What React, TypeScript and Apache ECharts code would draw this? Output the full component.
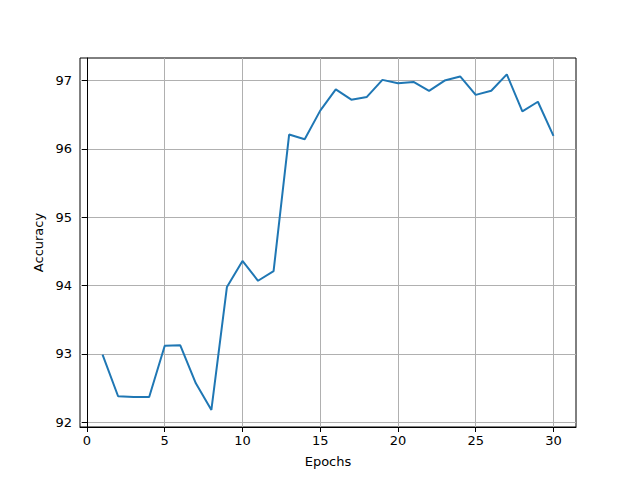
import React, { useEffect, useRef } from "react";
import * as echarts from "echarts";

const epochs = Array.from({ length: 30 }, (_, i) => i + 1);
const accuracy = [
  92.99, 92.38, 92.37, 92.37, 93.12, 93.125, 92.57, 92.18, 93.98, 94.36,
  94.07, 94.21, 96.21, 96.14, 96.56, 96.87, 96.72, 96.76, 97.01, 96.96,
  96.98, 96.85, 97.0, 97.06, 96.79, 96.85, 97.09, 96.55, 96.69, 96.19,
];
const xTicks = [0, 5, 10, 15, 20, 25, 30];
const yTicks = [92, 93, 94, 95, 96, 97];

const FONT = "DejaVu Sans";

export default function App() {
  const ref = useRef<HTMLDivElement>(null);
  useEffect(() => {
    if (!ref.current) return;
    const chart = echarts.init(ref.current, undefined, { renderer: "svg" });
    chart.setOption({
      animation: false,
      backgroundColor: "#ffffff",
      textStyle: { fontFamily: FONT },
      grid: {
        left: 80,
        right: 64,
        top: 58,
        bottom: 53,
        show: true,
        borderColor: "#000000",
        borderWidth: 1,
        backgroundColor: "transparent",
      },
      xAxis: {
        type: "value",
        min: -0.45,
        max: 31.45,
        name: "Epochs",
        nameLocation: "middle",
        nameGap: 28,
        nameTextStyle: { fontFamily: FONT, fontSize: 13, color: "#000" },
        axisLine: { show: true, lineStyle: { color: "#000", width: 1 } },
        axisTick: {
          show: true,
          length: 5,
          lineStyle: { color: "#000", width: 1 },
          customValues: xTicks,
        },
        axisLabel: {
          fontFamily: FONT,
          fontSize: 13,
          color: "#000",
          margin: 7,
          customValues: xTicks,
        },
        splitLine: { show: true, lineStyle: { color: "#b0b0b0", width: 1 } },
      },
      yAxis: {
        type: "value",
        min: 91.93,
        max: 97.33,
        name: "Accuracy",
        nameLocation: "middle",
        nameGap: 35,
        nameTextStyle: { fontFamily: FONT, fontSize: 13, color: "#000" },
        axisLine: { show: true, lineStyle: { color: "#000", width: 1 } },
        axisTick: {
          show: true,
          length: 5,
          lineStyle: { color: "#000", width: 1 },
          customValues: yTicks,
        },
        axisLabel: {
          fontFamily: FONT,
          fontSize: 13,
          color: "#000",
          margin: 8,
          customValues: yTicks,
        },
        splitLine: { show: true, lineStyle: { color: "#b0b0b0", width: 1 } },
      },
      series: [
        {
          type: "line",
          data: epochs.map((e, i) => [e, accuracy[i]]),
          showSymbol: false,
          symbol: "none",
          lineStyle: { color: "#1f77b4", width: 2 },
          itemStyle: { color: "#1f77b4" },
        },
      ],
    });
    return () => chart.dispose();
  }, []);
  return (
    <div
      ref={ref}
      style={{ position: "fixed", left: 0, top: 0, width: 640, height: 480 }}
    />
  );
}
